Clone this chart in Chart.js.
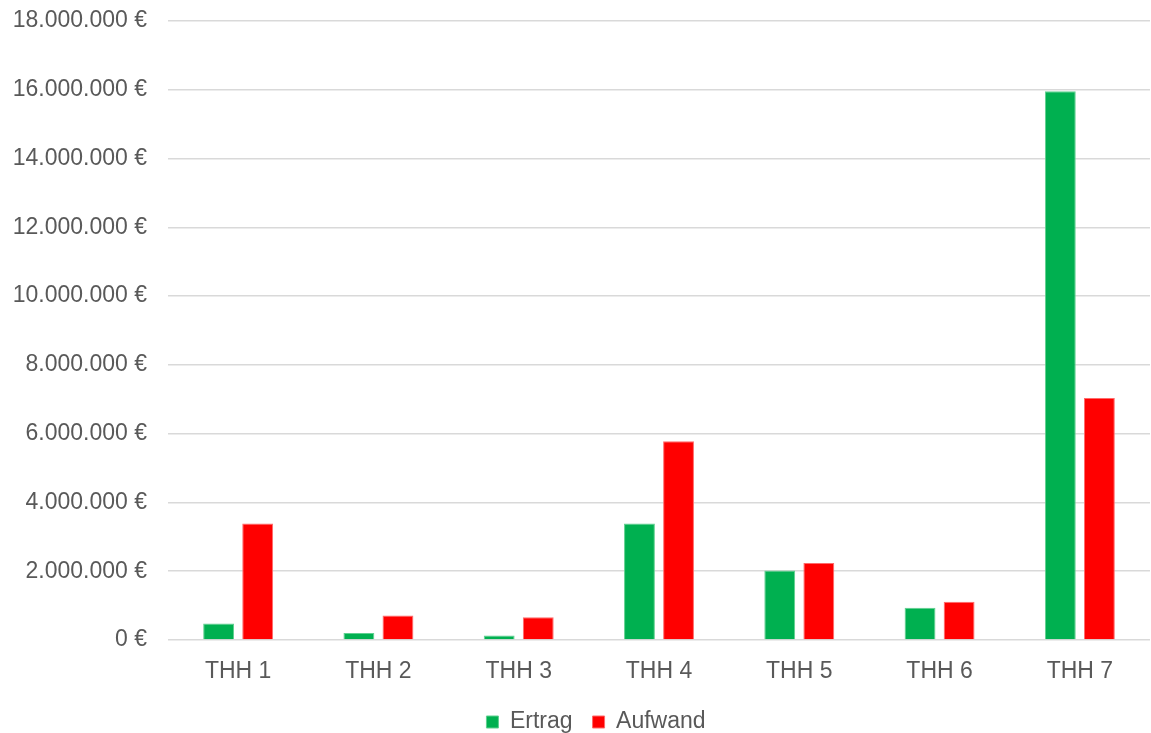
<!doctype html>
<html lang="de">
<head>
<meta charset="utf-8"/>
<title>Ertrag / Aufwand THH</title>
<script src="https://cdn.jsdelivr.net/npm/chart.js@4.4.0/dist/chart.umd.min.js"></script>
<style>
  html,body{margin:0;padding:0;background:#fff}
  .wrap{width:1151px;height:733px;position:relative}
</style>
</head>
<body>
<div class="wrap"><canvas id="c1"></canvas></div>
<script>
  // Daten
  const labels = ['THH 1','THH 2','THH 3','THH 4','THH 5','THH 6','THH 7'];
  const ertrag  = [480000, 200000, 130000, 3390000, 2020000, 940000, 15960000];
  const aufwand = [3390000, 710000, 660000, 5780000, 2240000, 1110000, 7040000];
  const yMax = 18000000;
  const yStep = 2000000;

  const txt = '#595959';
  const fnt = { family: "'Liberation Sans', Arial, sans-serif", size: 23 };
  const eur = v => Number(v).toLocaleString('de-DE') + '\u00a0€';

  // Legende etwas nach rechts/unten setzen (wie im Original)
  const legendShift = {
    id: 'legendShift',
    afterLayout(chart) {
      const lg = chart.legend;
      if (!lg) return;
      lg.left += 42;
      lg.top = 722 - 20 - 11.5;
      lg.bottom = 733;
    }
  };

  new Chart(document.getElementById('c1'), {
    type: 'bar',
    data: {
      labels,
      datasets: [
        { label: 'Ertrag', data: ertrag, backgroundColor: '#00B050', borderColor: '#5fd08f', borderWidth: 1 },
        { label: 'Aufwand', data: aufwand, backgroundColor: '#FF0000', borderColor: '#ff6a6a', borderWidth: 1 }
      ]
    },
    plugins: [legendShift],
    options: {
      responsive: true,
      maintainAspectRatio: false,
      animation: false,
      categoryPercentage: 0.557,
      barPercentage: 0.79,
      layout: { padding: { top: 21, right: 1, left: 0, bottom: 0 } },
      plugins: {
        tooltip: { enabled: false },
        legend: {
          position: 'bottom',
          maxHeight: 20,
          labels: { color: txt, font: fnt, boxWidth: 12, boxHeight: 12, padding: 20 }
        }
      },
      scales: {
        x: {
          grid: { display: false },
          border: { display: false },
          ticks: { color: txt, font: fnt, padding: 10 },
          afterFit: s => { s.height = 73; }
        },
        y: {
          min: 0, max: yMax,
          border: { display: false },
          grid: { color: '#d9d9d9', lineWidth: 1.6, drawTicks: true, tickLength: 18, tickColor: 'rgba(0,0,0,0)' },
          ticks: { stepSize: yStep, color: txt, font: fnt, padding: 3, callback: v => eur(v) },
          afterFit: s => { s.width = 168; }
        }
      }
    }
  });
</script>
</body></html>
